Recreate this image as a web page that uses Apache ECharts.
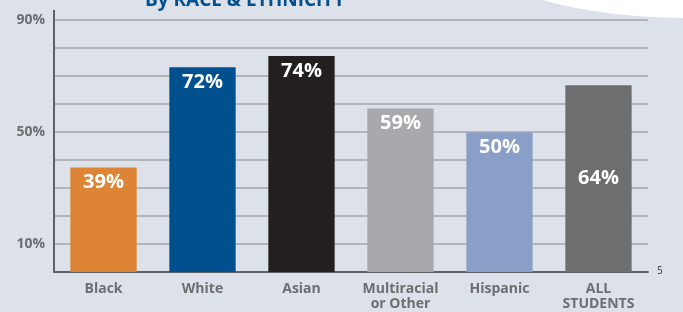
<!DOCTYPE html>
<html>
<head>
<meta charset="utf-8">
<script src="https://cdn.jsdelivr.net/npm/echarts@6/dist/echarts.min.js"></script>
<style>
  html, body { margin: 0; padding: 0; background: #dde1ea; }
  #chart { width: 683px; height: 312px; }
</style>
</head>
<body>
<div id="chart"></div>
<script>
// categories along the x axis
const categories = ['Black', 'White', 'Asian', 'Multiracial\nor Other', 'Hispanic', 'ALL\nSTUDENTS']
// bar heights as drawn in the picture (%)
const barValues = [37.3, 73.1, 77.1, 58.4, 49.8, 66.7]
// printed labels on the bars
const valueLabels = ['39%', '72%', '74%', '59%', '50%', '64%']
const barColors = ['#de8535', '#00508f', '#231f20', '#a7a9ac', '#8a9fc8', '#6d6e70']
// y ticks that carry a label
const shownTicks = [10, 50, 90]

const chart = echarts.init(document.getElementById('chart'))
chart.setOption({
  backgroundColor: '#dde1ea',
  animation: false,
  grid: { left: 54, right: 35, top: 20, bottom: 40 },
  xAxis: {
    type: 'category',
    data: categories,
    axisTick: { show: false },
    axisLine: { lineStyle: { color: '#5f6168', width: 2 } },
    axisLabel: {
      color: '#6d6e70',
      fontWeight: 'bold',
      fontSize: 14,
      fontFamily: 'Open Sans',
      lineHeight: 15,
      margin: 10
    }
  },
  yAxis: {
    type: 'value',
    min: 0,
    max: 90,
    interval: 10,
    axisLine: { show: true, lineStyle: { color: '#5f6168', width: 2 } },
    axisTick: { show: false },
    splitLine: { lineStyle: { color: '#b1b4bb', width: 2 } },
    axisLabel: {
      color: '#6d6e70',
      fontWeight: 'bold',
      fontSize: 14,
      fontFamily: 'Open Sans',
      margin: 9,
      formatter: function (v) {
        return shownTicks.indexOf(v) >= 0 ? v + '%' : ''
      }
    }
  },
  series: [
    {
      type: 'bar',
      barWidth: '67%',
      data: barValues.map(function (v, i) {
        return {
          value: v,
          itemStyle: { color: barColors[i] },
          label: i === 5 ? { position: 'inside' } : {}
        }
      }),
      label: {
        show: true,
        position: 'insideTop',
        distance: 5,
        color: '#ffffff',
        fontWeight: 'bold',
        fontSize: 20,
        fontFamily: 'Open Sans',
        formatter: function (p) {
          return valueLabels[p.dataIndex]
        }
      }
    }
  ],
  graphic: [
    {
      type: 'ellipse',
      shape: { cx: 690, cy: -42, rx: 206, ry: 60 },
      style: { fill: '#ffffff' },
      z: 0
    },
    {
      type: 'text',
      left: 145,
      top: -9,
      style: {
        text: 'By RACE & ETHNICITY',
        fill: '#00508f',
        font: 'bold 19px "Open Sans"'
      }
    },
    {
      type: 'line',
      shape: { x1: 54, y1: 10, x2: 54, y2: 272 },
      style: { stroke: '#5f6168', lineWidth: 2 }
    },
    {
      type: 'text',
      left: 657,
      top: 266,
      style: { text: '5', fill: '#333333', font: '10px "Open Sans"' }
    }
  ]
})
</script>
</body>
</html>
